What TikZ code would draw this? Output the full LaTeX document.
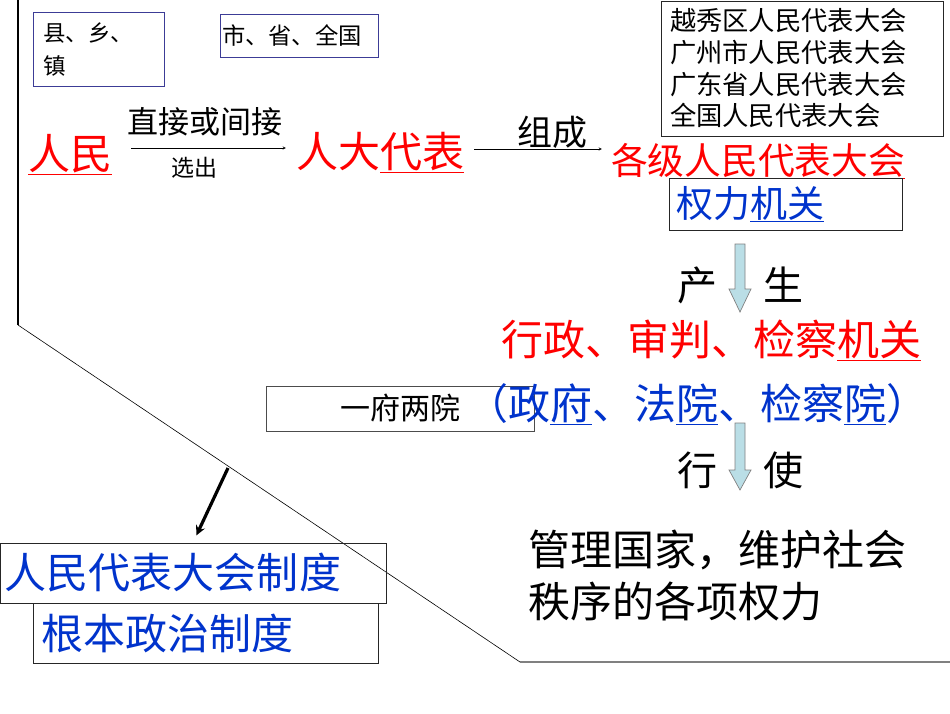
\documentclass[tikz,border=0pt]{standalone}
\usepackage{fontspec}
\setmainfont{Noto Sans CJK SC}
\usepackage{tikz}
\definecolor{orgred}{RGB}{255,0,0}
\definecolor{orgblue}{RGB}{0,51,204}
\definecolor{navyline}{RGB}{60,60,150}
\definecolor{arrowfill}{RGB}{186,222,230}
\newcommand{\fs}[2]{\fontsize{#1pt}{#2pt}\selectfont}

\begin{document}
\begin{tikzpicture}[x=1pt,y=-1pt,>=stealth,
  every node/.style={inner sep=0pt},
  plaintxt/.style={anchor=base},
  redtxt/.style={anchor=base,text=orgred,font=\fs{42}{50}},
  bluetxt/.style={anchor=base,text=orgblue,font=\fs{42}{50}},
  frame/.style={draw=black!85,line width=0.8pt},
  navyframe/.style={draw=navyline,line width=0.9pt},
  blockarrow/.style={fill=arrowfill,draw=gray,line width=0.7pt}]
  \useasboundingbox (0,0) rectangle (950,713);
  % outline
  \draw[line width=1.2pt] (18,0) -- (18,325);
  \draw[line width=0.6pt] (18,325) -- (520,662);
  \draw[gray,line width=2pt] (520,662) -- (950,662);
  % level boxes
  \node[navyframe,minimum width=131pt,minimum height=74pt,text width=111pt,inner xsep=10pt,align=left,font=\fs{22.5}{33}] (xiang) at (98.5,49) {县、乡、\\镇};
  \node[navyframe,minimum width=158pt,minimum height=43pt,text width=154pt,inner xsep=2pt,align=left,font=\fs{23.3}{28}] (shisheng) at (299,35.5) {市、省、全国};
  \node[frame,minimum width=282pt,minimum height=135pt,text width=264pt,inner xsep=9pt,align=left,font=\fs{26.3}{31.7}] (levels) at (802,68.5) {越秀区人民代表大会\\广州市人民代表大会\\广东省人民代表大会\\全国人民代表大会};
  % first row
  \node[redtxt] (renmin) at (70,169) {\underline{人民}};
  \node[redtxt] (rdb) at (380,167) {人大\underline{代表}};
  \node[plaintxt,font=\fs{31}{36}] (zhijie) at (205,133) {直接或间接};
  \node[plaintxt,font=\fs{23}{28}] (xuanchu) at (194,176) {选出};
  \draw[->,shorten <=19pt,shorten >=10pt] (renmin.east |- 0,148) -- (rdb.west |- 0,148);
  \node[redtxt,font=\fs{36.75}{40}] (geji) at (758,174) {各级人民代表\underline{大会}};
  \node[plaintxt,font=\fs{35}{40}] (zucheng) at (552,145) {组成};
  \draw[->,shorten <=10pt,shorten >=9pt] (rdb.east |- 0,149) -- (geji.west |- 0,149);
  \node[frame,minimum width=233pt,minimum height=52pt,text width=219pt,inner xsep=7pt,align=left,text=orgblue,font=\fs{37}{40}] (quanli) at (785.5,204) {权力\underline{机关}};
  % block arrows
  \foreach \ya/\yb/\yc in {244/289/312,423/470/490}
    \draw[blockarrow] (735,\ya) -- (745,\ya) -- (745,\yb) -- (751,\yb) -- (740,\yc) -- (729,\yb) -- (735,\yb) -- cycle;
  \node[plaintxt,font=\fs{40}{44}] (chan) at (697,300) {产};
  \node[plaintxt,font=\fs{40}{44}] (sheng) at (783,300) {生};
  \node[redtxt] (xingzheng) at (711,355) {行政、审判、检察\underline{机关}};
  \node[frame,draw=black!70,minimum width=268pt,minimum height=45pt,font=\fs{30}{34}] (yifu) at (400,408.5) {一府两院};
  \node[bluetxt] (zhengfu) at (697,419) {（政\underline{府}、法\underline{院}、检察\underline{院}）};
  \node[plaintxt,font=\fs{40}{44}] (xing) at (697,485) {行};
  \node[plaintxt,font=\fs{40}{44}] (shi) at (783,485) {使};
  \node[anchor=west,align=left,font=\fs{42}{52}] (guanli) at (528,575) {管理国家，维护社会\\秩序的各项权力};
  % system boxes
  \node[frame,minimum width=386pt,minimum height=60pt,text width=376pt,inner xsep=5pt,align=left,text=orgblue,font=\fs{42}{46}] (rdzd) at (193,573) {人民代表大会制度};
  \node[frame,minimum width=345pt,minimum height=60pt,text width=329pt,inner xsep=8pt,align=left,text=orgblue,font=\fs{42}{46}] (gbzd) at (205.5,633) {根本政治制度};
  \coordinate (fork) at (228,468);
  \draw[->,line width=3.2pt,shorten >=8pt] (fork) -- (rdzd.north);
\end{tikzpicture}
\end{document}
